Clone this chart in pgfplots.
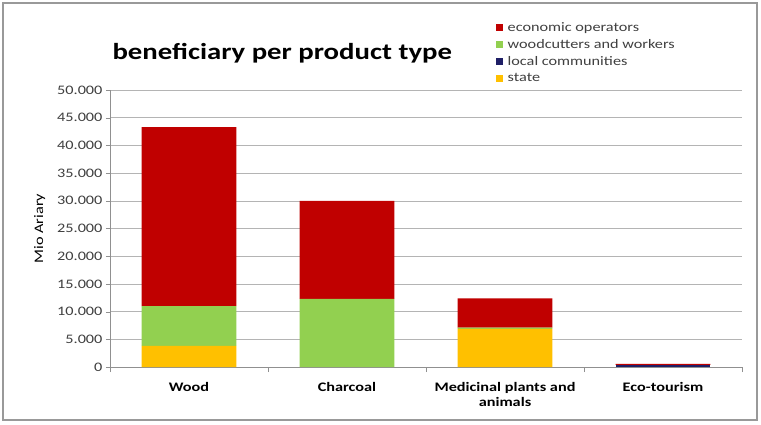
\documentclass[border=0pt]{standalone}
\usepackage{pgfplots}
\pgfplotsset{compat=1.18}
\usepackage{fontspec}
\setmainfont{Carlito}[FakeStretch=1.25]
\definecolor{econ}{HTML}{C00000}
\definecolor{wcut}{HTML}{92D050}
\definecolor{local}{HTML}{1F1F66}
\definecolor{state}{HTML}{FFC000}
\definecolor{gridc}{HTML}{B4B4B4}
\begin{document}
\begin{tikzpicture}[x=1pt,y=1pt]
\useasboundingbox (0,0) rectangle (761,424);
\fill[white] (0,0) rectangle (761,424);
\draw[gray!80, line width=1.2pt] (3,4) rectangle (757,421);
\node[anchor=west, font=\fontsize{23}{27}\selectfont\bfseries] at (109,371) {beneficiary per product type};
\begin{axis}[
  at={(110pt,57pt)}, anchor=south west,
  scale only axis, width=632pt, height=277pt,
  ybar stacked, bar width=0.6,
  xmin=-0.5, xmax=3.5, ymin=0, ymax=50000,
  xtick={0,1,2,3},
  xticklabels={Wood,Charcoal,{Medicinal plants and\\animals},Eco-tourism},
  xticklabel style={font=\fontsize{13}{15}\selectfont\bfseries, align=center, yshift=-8pt},
  minor xtick={-0.5,0.5,1.5,2.5,3.5},
  major x tick style={draw=none},
  minor tick length=5pt,
  ytick distance=5000,
  major tick length=4pt,
  tick align=outside, tick pos=left,
  tick style={gridc!80!black},
  axis x line*=bottom, axis y line*=left,
  axis line style={gridc!80!black},
  ymajorgrids, grid style={gridc, line width=0.6pt},
  scaled y ticks=false,
  yticklabel style={/pgf/number format/fixed, /pgf/number format/1000 sep={.}, /pgf/number format/assume math mode=true,
    font=\fontsize{13}{15}\selectfont, text=black!75},
  ylabel={Mio Ariary},
  ylabel style={font=\fontsize{13}{15}\selectfont, yshift=5pt},
  legend style={at={(0.606,1.258)}, anchor=north west, draw=none, fill=none,
    font=\fontsize{13}{15}\selectfont, text=black!75, row sep=3.5pt, column sep=3pt,
    nodes={inner sep=1.5pt}},
  legend cell align=left,
  legend reversed,
  area legend,
  legend image code/.code={\fill[#1] (0pt,-3.5pt) rectangle (7pt,3.5pt);},
]
\addplot[fill=state, draw=none] coordinates {(0,3800) (1,0) (2,6900) (3,0)};
\addlegendentry{state}
\addplot[fill=local, draw=none] coordinates {(0,0) (1,0) (2,0) (3,400)};
\addlegendentry{local communities}
\addplot[fill=wcut, draw=none] coordinates {(0,7200) (1,12300) (2,200) (3,0)};
\addlegendentry{woodcutters and workers}
\addplot[fill=econ, draw=none] coordinates {(0,32300) (1,17700) (2,5300) (3,170)};
\addlegendentry{economic operators}
\end{axis}
\end{tikzpicture}
\end{document}
